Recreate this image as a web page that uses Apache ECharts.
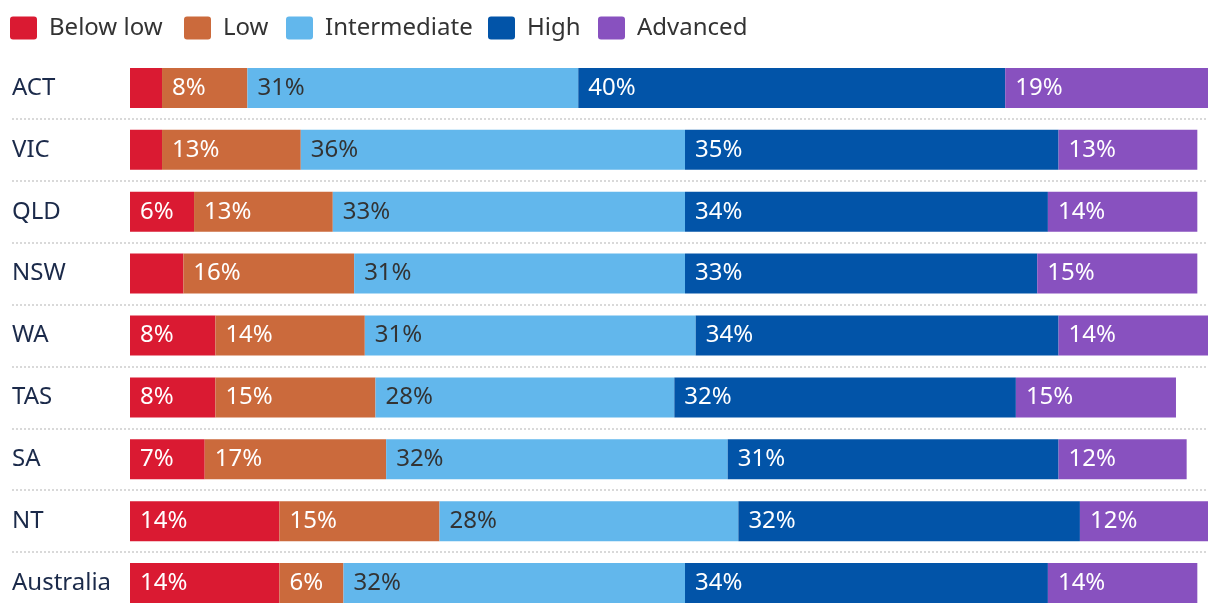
<!DOCTYPE html>
<html>
<head>
<meta charset="utf-8">
<script src="https://cdn.jsdelivr.net/npm/echarts@6/dist/echarts.min.js"></script>
<style>
html,body{margin:0;padding:0;background:#fff;}
#chart{width:1220px;height:614px;}
</style>
</head>
<body>
<div id="chart"></div>
<script>
const categories = ['ACT', 'VIC', 'QLD', 'NSW', 'WA', 'TAS', 'SA', 'NT', 'Australia'];
const seriesNames = ['Below low', 'Low', 'Intermediate', 'High', 'Advanced'];
const belowLow     = [3, 3, 6, 5, 8, 8, 7, 14, 14];
const low          = [8, 13, 13, 16, 14, 15, 17, 15, 6];
const intermediate = [31, 36, 33, 31, 31, 28, 32, 28, 32];
const high         = [40, 35, 34, 33, 34, 32, 31, 32, 34];
const advanced     = [19, 13, 14, 15, 14, 15, 12, 12, 14];

const values = [belowLow, low, intermediate, high, advanced];
const colors = ['#DA1A32', '#CB6A3C', '#62B7EC', '#0254A8', '#8851BF'];
const labelColors = ['#ffffff', '#ffffff', '#333333', '#ffffff', '#ffffff'];
const legendLeft = [10, 184, 286, 488, 598];
const FONT = '"Noto Sans", sans-serif';
const iconPath = 'path://M3,0 H24 Q27,0 27,3 V20 Q27,23 24,23 H3 Q0,23 0,20 V3 Q0,0 3,0 Z';

const chart = echarts.init(document.getElementById('chart'));

const legends = seriesNames.map((n, i) => ({
  data: [n],
  left: legendLeft[i],
  top: 16,
  itemWidth: 27,
  itemHeight: 23,
  icon: iconPath,
  padding: 0,
  selectedMode: false,
  textStyle: { fontFamily: FONT, fontSize: 24, color: '#333333', padding: [0, 0, 0, 7] }
}));

const series = seriesNames.map((n, i) => ({
  name: n,
  type: 'bar',
  stack: 'total',
  xAxisIndex: 1,
  yAxisIndex: 1,
  barWidth: 40,
  itemStyle: { color: colors[i] },
  data: values[i].map(v => ({
    value: v,
    label: { show: v >= 6 }
  })),
  label: {
    position: 'insideLeft',
    distance: 10,
    fontFamily: FONT,
    fontSize: 24,
    color: labelColors[i],
    formatter: p => p.value + '%'
  },
  emphasis: { disabled: true },
  animation: false
}));

chart.setOption({
  backgroundColor: '#ffffff',
  animation: false,
  legend: legends,
  grid: [
    { left: 12, right: 12, top: 57, bottom: -1 },
    { left: 130, right: 12, top: 57, bottom: -1 }
  ],
  xAxis: [
    { gridIndex: 0, type: 'value', min: 0, max: 1, show: false },
    { gridIndex: 1, type: 'value', min: 0, max: 101, show: false }
  ],
  yAxis: [
    {
      gridIndex: 0, type: 'category', data: categories, inverse: true,
      axisLine: { show: false }, axisTick: { show: false }, axisLabel: { show: false },
      splitLine: {
        show: true, showMinLine: false, showMaxLine: false, interval: 0,
        lineStyle: { color: '#d9d9d9', width: 2, type: [2, 2] }
      }
    },
    {
      gridIndex: 1, type: 'category', data: categories, inverse: true,
      axisLine: { show: false }, axisTick: { show: false },
      splitLine: { show: false },
      axisLabel: {
        align: 'left', margin: 118, fontFamily: FONT, fontSize: 24, color: '#1B2A4A', interval: 0
      }
    }
  ],
  series: series
});
</script>
</body>
</html>
